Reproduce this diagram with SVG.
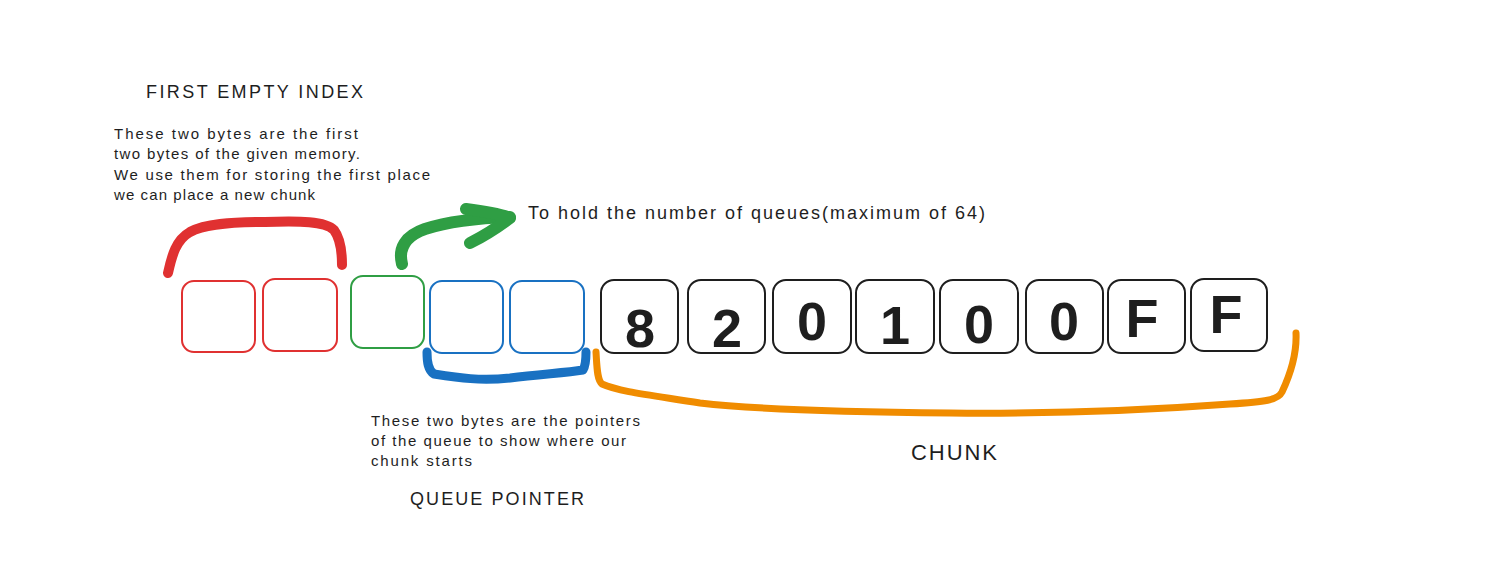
<svg xmlns="http://www.w3.org/2000/svg" width="1495" height="567" viewBox="0 0 1495 567">
<style>
.bg{fill:#ffffff}
.box{fill:none;stroke-width:2;}
.r{stroke:#e03131}
.g{stroke:#2f9e44}
.b{stroke:#1971c2}
.k{stroke:#1e1e1e}
.txt{font-family:"Liberation Sans",Arial,sans-serif;fill:#1e1e1e}
.note{font-size:15px}
.title{font-size:18px}
.digit{font-family:"Liberation Sans",Arial,sans-serif;font-weight:bold;font-size:54px;fill:#1e1e1e;text-anchor:middle}
.stroke{fill:none;stroke-linecap:round;stroke-linejoin:round}
</style>
<rect class="bg" x="0" y="0" width="1495" height="567"/>

<g id="labels">
<text class="txt title" x="146" y="98" textLength="217" lengthAdjust="spacing">FIRST EMPTY INDEX</text>
<text class="txt note" x="114" y="139" textLength="244" lengthAdjust="spacing">These two bytes are the first</text>
<text class="txt note" x="114" y="159" textLength="246" lengthAdjust="spacing">two bytes of the given memory.</text>
<text class="txt note" x="114" y="180" textLength="316" lengthAdjust="spacing">We use them for storing the first place</text>
<text class="txt note" x="114" y="200" textLength="201" lengthAdjust="spacing">we can place a new chunk</text>
<text class="txt" font-size="18" x="528" y="219" textLength="457" lengthAdjust="spacing">To hold the number of queues(maximum of 64)</text>
<text class="txt note" x="371" y="426" textLength="269" lengthAdjust="spacing">These two bytes are the pointers</text>
<text class="txt note" x="371" y="446" textLength="255" lengthAdjust="spacing">of the queue to show where our</text>
<text class="txt note" x="371" y="466" textLength="101" lengthAdjust="spacing">chunk starts</text>
<text class="txt title" x="410" y="505" textLength="174" lengthAdjust="spacing">QUEUE POINTER</text>
<text class="txt" font-size="22" x="911" y="460" textLength="86" lengthAdjust="spacing">CHUNK</text>
</g>

<g id="node-red1"><rect class="box r" x="182" y="281" width="73" height="71" rx="12"/></g>
<g id="node-red2"><rect class="box r" x="263" y="279" width="74" height="72" rx="12"/></g>
<g id="node-green"><rect class="box g" x="351" y="276" width="73" height="72" rx="12"/></g>
<g id="node-blue1"><rect class="box b" x="430" y="281" width="73" height="72" rx="12"/></g>
<g id="node-blue2"><rect class="box b" x="510" y="281" width="74" height="72" rx="12"/></g>

<g id="node-b1"><rect class="box k" x="601" y="280" width="77" height="73" rx="13"/><text class="digit" x="640" y="347">8</text></g>
<g id="node-b2"><rect class="box k" x="688" y="280" width="77" height="73" rx="13"/><text class="digit" x="727" y="347">2</text></g>
<g id="node-b3"><rect class="box k" x="773" y="280" width="78" height="73" rx="13"/><text class="digit" x="812" y="340">0</text></g>
<g id="node-b4"><rect class="box k" x="856" y="280" width="78" height="73" rx="13"/><text class="digit" x="895" y="344">1</text></g>
<g id="node-b5"><rect class="box k" x="940" y="280" width="78" height="73" rx="13"/><text class="digit" x="979" y="343">0</text></g>
<g id="node-b6"><rect class="box k" x="1026" y="280" width="77" height="73" rx="13"/><text class="digit" x="1064" y="340">0</text></g>
<g id="node-b7"><rect class="box k" x="1108" y="280" width="77" height="73" rx="13"/><text class="digit" x="1142" y="337">F</text></g>
<g id="node-b8"><rect class="box k" x="1191" y="279" width="76" height="72" rx="13"/><text class="digit" x="1226" y="333">F</text></g>

<g id="connectors">
<path class="stroke" stroke="#e03131" stroke-width="10" d="M168,273 C172,255 176,240 190,232 C205,224 230,222 265,222 C300,221 325,221 334,230 C340,238 342,252 342,265"/>
<path class="stroke" stroke="#2f9e44" stroke-width="12" d="M402,264 C398,248 405,236 425,229 C450,221 478,218 510,217"/>
<path class="stroke" stroke="#2f9e44" stroke-width="12" d="M466,209 C482,211 500,214 510,218 C498,227 484,236 470,243"/>
<path class="stroke" stroke="#1971c2" stroke-width="9" d="M427,352 C427,362 428,370 434,374 C460,378 480,381 510,378 C540,374 565,373 583,370 C586,365 586,358 586,352"/>
<path class="stroke" stroke="#f08c00" stroke-width="7" d="M596,352 C597,368 597,380 602,384 C620,392 650,395 700,403 C760,410 850,412 950,413 C1050,414 1150,410 1230,404 C1265,402 1278,400 1282,392 C1290,375 1297,355 1296,333"/>
</g>
</svg>
